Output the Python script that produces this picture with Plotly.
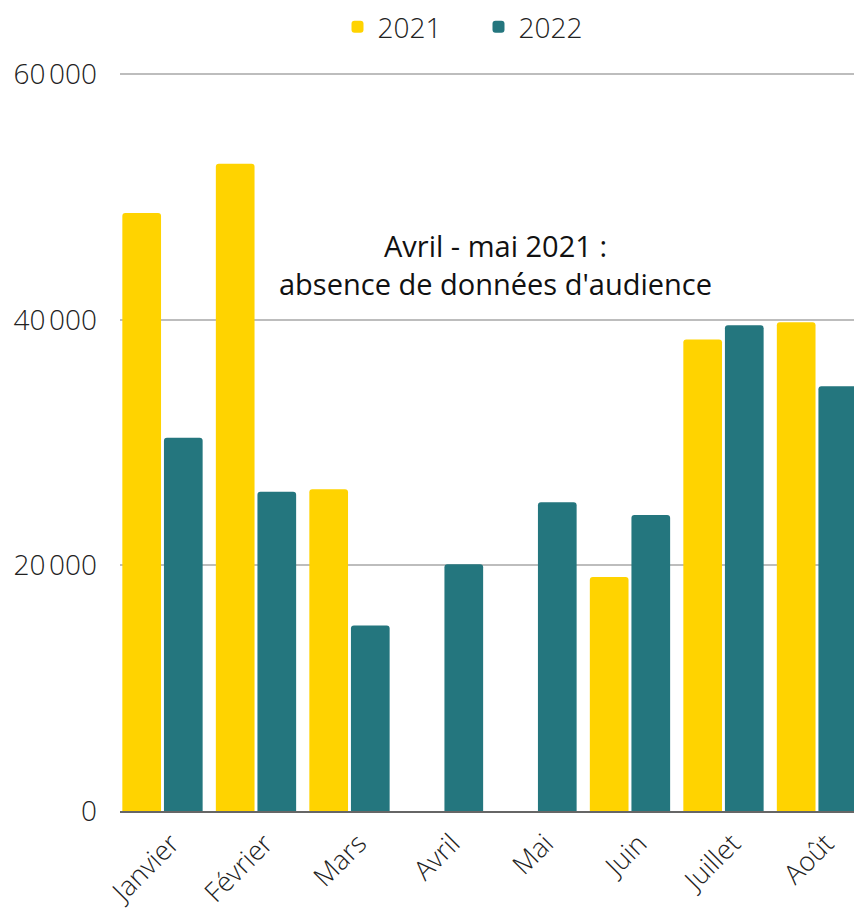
import plotly.graph_objects as go

mois = ["Janvier", "Février", "Mars", "Avril", "Mai", "Juin", "Juillet", "Août"]
audience_2021 = [48700, 52700, 26200, None, None, 19050, 38400, 39800]
audience_2022 = [30400, 26000, 15100, 20100, 25150, 24100, 39550, 34600]
y_ticks = [0, 20000, 40000, 60000]
note = "Avril - mai 2021 :<br>absence de données d'audience"

YELLOW = "#FFD300"
TEAL = "#24767E"
LIGHT = dict(family="Open Sans", size=28, color="#222222", weight=300)

fig = go.Figure()
fig.add_trace(go.Bar(x=mois, y=audience_2021, name="2021",
                     marker=dict(color=YELLOW, cornerradius=3, line=dict(width=0))))
fig.add_trace(go.Bar(x=mois, y=audience_2022, name="2022",
                     marker=dict(color=TEAL, cornerradius=3, line=dict(width=0))))

fig.update_layout(
    width=854, height=913,
    margin=dict(l=120, r=0, t=73, b=102, autoexpand=False),
    paper_bgcolor="white", plot_bgcolor="white",
    barmode="group", bargap=0.11, bargroupgap=0.07,
    separators=",\u202f",
    font=dict(family="Open Sans", color="#222222"),
    legend=dict(orientation="h", xref="container", yref="container",
                x=0.5603, y=1 - 27 / 913, xanchor="center", yanchor="middle",
                font=LIGHT, itemwidth=30, entrywidth=96, entrywidthmode="pixels",
                bgcolor="rgba(0,0,0,0)"),
    xaxis=dict(type="category", range=[-0.4545, 7.396], showline=True,
               linecolor="#666666", linewidth=2, tickangle=-45, automargin=False,
               tickfont=dict(family="Open Sans", size=27, color="#222222", weight=300),
               showgrid=False, ticks="", ticklabelstandoff=4, ticklabelshift=9),
    yaxis=dict(range=[0, 60100], tickvals=y_ticks, tickformat=",d", automargin=False,
               showgrid=True, gridcolor="#BDBDBD", gridwidth=1.5,
               zeroline=False, showline=False, tickfont=LIGHT,
               ticklabelstandoff=22),
    annotations=[dict(text=note, xref="paper", yref="paper",
                      x=(495 - 120) / 734, y=(811 - 265) / 737,
                      xanchor="center", yanchor="middle", showarrow=False,
                      font=dict(family="Open Sans", size=29, color="#111111"))],
)

fig.write_html("out.html", config={"displayModeBar": False},
               post_script="document.body.style.margin='0';")
